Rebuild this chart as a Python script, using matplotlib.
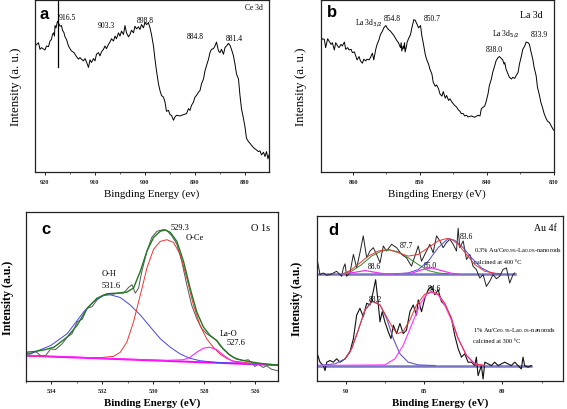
import matplotlib
matplotlib.use("Agg")
import matplotlib.pyplot as plt
from matplotlib.ticker import MultipleLocator

plt.rcParams['font.family'] = ['Liberation Serif', 'DejaVu Serif']

# ---------------- Panel a : Ce 3d ----------------
a_ev = [922.0, 921.3, 921.0, 920.7, 920.0, 919.7, 919.3, 919.0, 918.7, 918.5, 918.3, 918.1, 918.0, 917.8,
        917.5, 917.3, 917.0, 916.7, 916.5, 916.2, 916.0, 915.7, 915.3, 915.0, 914.7, 914.2, 913.7, 913.3,
        913.0, 912.7, 912.3, 912.0, 911.7, 911.3, 911.0, 910.7, 910.3, 910.0, 909.7, 909.3, 909.0, 908.7,
        908.3, 908.0, 907.7, 907.3, 907.0, 906.7, 906.3, 906.0, 905.7, 905.3, 905.0, 904.7, 904.3, 904.0,
        903.7, 903.3, 903.0, 902.7, 902.3, 902.0, 901.7, 901.3, 901.0, 900.7, 900.3, 900.0, 899.7, 899.3,
        899.0, 898.7, 898.3, 898.0, 897.7, 897.3, 897.0, 896.7, 896.3, 896.0, 895.7, 895.3, 895.0, 894.7,
        894.3, 894.0, 893.7, 893.0, 892.3, 891.7, 891.3, 891.0, 890.7, 890.3, 890.0, 889.7, 889.3, 889.0,
        888.7, 888.3, 888.0, 887.7, 887.3, 887.0, 886.7, 886.3, 886.0, 885.7, 885.3, 885.0, 884.7, 884.3,
        884.0, 883.7, 883.3, 883.0, 882.7, 882.3, 882.0, 881.7, 881.3, 881.0, 880.7, 880.3, 880.0, 879.7,
        879.3, 879.0, 878.3, 877.7, 877.3, 877.0, 876.7, 876.3, 876.0, 875.7, 875.4, 875.2]
a_int = [76.4, 78.4, 74.4, 75.4, 74.0, 76.4, 76.0, 79.4, 80.4, 83.4, 84.4, 82.4, 88.8, 87.4,
         91.4, 90.4, 88.4, 88.8, 86.0, 84.4, 82.0, 80.4, 76.4, 74.8, 73.4, 72.4, 70.0, 68.4,
         69.4, 68.4, 67.4, 68.8, 66.8, 63.4, 68.0, 66.4, 68.8, 67.4, 71.4, 72.4, 70.4, 72.8,
         74.4, 76.4, 74.8, 77.4, 78.8, 80.8, 79.4, 82.4, 80.8, 84.4, 82.4, 85.4, 83.4, 88.8,
         84.4, 82.0, 83.4, 86.0, 84.4, 88.4, 86.8, 88.0, 86.4, 89.4, 87.4, 90.8, 89.4, 90.4,
         87.4, 83.4, 76.4, 68.4, 61.4, 53.4, 49.4, 46.4, 45.4, 42.4, 36.8, 37.4, 34.8, 34.4,
         31.4, 33.4, 34.4, 34.0, 34.8, 35.4, 38.4, 37.4, 40.4, 42.4, 45.4, 46.4, 48.4, 49.4,
         53.4, 56.4, 61.4, 64.4, 68.4, 72.4, 74.4, 74.8, 76.4, 78.8, 73.4, 72.4, 74.4, 71.4,
         75.4, 76.4, 78.0, 76.8, 74.4, 70.4, 65.4, 59.4, 56.4, 46.4, 38.4, 32.4, 27.4, 20.4,
         18.4, 17.4, 14.8, 13.4, 12.4, 12.8, 10.4, 12.0, 9.4, 12.4, 8.0, 10.4]
a_marker_ev = 917.3
a_labels = ["916.5", "903.3", "898.8", "884.8", "881.4"]
a_label_ev = [917.3, 907.8, 900.0, 890.0, 882.1]
a_label_int = [94.0, 89.4, 92.0, 82.4, 81.4]

# ---------------- Panel b : La 3d ----------------
b_ev = [864.8, 864.6, 864.3, 864.1, 863.8, 863.6, 863.3, 863.1, 862.8, 862.6, 862.3, 862.1, 861.8, 861.6,
        861.3, 861.1, 860.8, 860.6, 860.3, 860.1, 859.8, 859.6, 859.4, 859.1, 858.9, 858.6, 858.4, 858.1,
        857.9, 857.6, 857.4, 857.1, 856.9, 856.6, 856.4, 856.1, 855.9, 855.6, 855.4, 855.1, 854.9, 854.7,
        854.4, 854.2, 853.9, 853.7, 853.4, 853.2, 852.9, 852.8, 852.7, 852.5, 852.4, 852.3, 852.2, 852.0,
        851.9, 851.7, 851.4, 851.2, 850.9, 850.7, 850.4, 850.2, 849.9, 849.7, 849.5, 849.2, 849.0, 848.7,
        848.5, 848.2, 848.0, 847.7, 847.5, 847.2, 847.0, 846.7, 846.5, 846.2, 846.0, 845.7, 845.5, 845.2,
        845.0, 844.8, 844.5, 844.3, 844.0, 843.8, 843.5, 843.3, 843.0, 842.8, 842.3, 841.8, 841.3, 841.0,
        840.8, 840.5, 840.3, 840.1, 839.8, 839.6, 839.3, 839.1, 838.8, 838.6, 838.3, 838.1, 837.8, 837.6,
        837.4, 837.3, 837.1, 836.8, 836.6, 836.3, 836.1, 835.8, 835.6, 835.3, 835.1, 834.8, 834.6, 834.3,
        834.1, 833.8, 833.6, 833.4, 833.1, 832.9, 832.6, 832.4, 832.1, 831.9, 831.6, 831.4, 831.1, 830.9,
        830.6, 830.4, 830.0]
b_int = [79.4, 80.8, 80.4, 75.4, 80.8, 79.4, 77.4, 78.4, 74.0, 78.4, 76.4, 75.4, 77.4, 76.4,
         78.8, 74.4, 75.4, 74.0, 74.4, 72.4, 72.8, 70.4, 68.0, 70.0, 67.4, 66.0, 68.4, 67.4,
         68.4, 68.0, 69.4, 72.0, 68.0, 74.4, 77.4, 80.4, 83.4, 85.4, 87.4, 88.8, 87.4, 86.4,
         85.4, 84.4, 82.8, 81.4, 79.4, 78.4, 75.4, 78.4, 73.4, 76.4, 74.8, 78.4, 72.8, 76.4,
         78.8, 80.8, 83.4, 87.4, 92.4, 92.0, 89.4, 87.4, 88.8, 82.4, 78.4, 71.4, 68.4, 65.4,
         62.4, 59.4, 54.4, 52.0, 52.8, 50.4, 47.4, 46.0, 48.8, 44.8, 46.4, 43.4, 44.4, 42.4,
         41.4, 40.4, 39.4, 38.0, 36.8, 35.4, 35.4, 34.0, 34.4, 33.4, 34.0, 33.2, 34.4, 34.0,
         38.4, 39.4, 40.0, 42.4, 47.4, 52.4, 56.4, 60.4, 64.4, 67.4, 69.4, 70.0, 68.8, 68.0,
         65.4, 66.4, 62.4, 59.4, 57.4, 56.4, 57.4, 56.8, 58.4, 60.4, 65.4, 70.4, 74.4, 76.4,
         78.8, 78.4, 77.4, 73.4, 68.4, 63.4, 58.4, 51.4, 46.4, 42.4, 38.4, 35.4, 32.4, 30.8,
         30.0, 28.4, 25.4]
b_labels = ["854.8", "850.7", "838.0", "833.9"]
b_label_ev = [854.1, 848.2, 838.9, 832.1]
b_label_int = [93.4, 93.4, 74.8, 83.4]

# ---------------- Panel c : O 1s ----------------
c_ev = [535.0, 534.8, 534.61, 534.41, 534.22, 534.02, 533.83, 533.57, 533.37, 533.18, 532.98, 532.78,
        532.59, 532.39, 532.2, 532.0, 531.81, 531.55, 531.35, 531.16, 530.96, 530.83, 530.7, 530.57,
        530.44, 530.24, 530.05, 529.85, 529.59, 529.46, 529.27, 529.07, 528.88, 528.68, 528.49, 528.29,
        528.09, 527.9, 527.7, 527.51, 527.38, 527.25, 527.05, 526.86, 526.66, 526.47, 526.27, 526.14,
        526.01, 525.88, 525.68, 525.55, 525.36, 525.1]
c_int = [16.0, 16.0, 17.4, 15.0, 15.0, 19.0, 18.6, 22.0, 26.0, 28.0, 35.0, 36.6,
         43.0, 44.0, 48.0, 50.6, 51.4, 51.4, 52.0, 52.0, 55.4, 57.0, 52.0, 55.0,
         65.0, 77.0, 85.0, 88.6, 89.6, 89.0, 86.0, 81.0, 71.0, 57.0, 45.0, 37.0,
         31.0, 28.0, 26.0, 24.0, 21.0, 19.0, 16.0, 14.0, 13.0, 12.0, 12.6, 11.0,
         8.6, 10.0, 8.0, 9.0, 7.0, 6.0]
c_fit_ev = [535.0, 534.67, 534.28, 533.89, 533.37, 532.98, 532.59, 532.2, 531.81, 531.42, 531.03, 530.77,
            530.5, 530.24, 529.98, 529.72, 529.53, 529.33, 529.07, 528.81, 528.55, 528.29, 528.03, 527.77,
            527.51, 527.25, 526.99, 526.73, 526.2, 525.68, 525.1]
c_fit_int = [17.0, 17.4, 18.4, 20.0, 26.0, 33.0, 43.0, 49.0, 51.6, 52.0, 52.6, 55.0,
             65.0, 77.0, 85.0, 88.6, 89.4, 88.0, 82.6, 71.0, 55.0, 41.0, 32.0, 27.0,
             24.0, 19.0, 15.4, 13.0, 11.4, 10.2, 9.4]
c_oce_ev = [535.0, 533.37, 532.07, 531.55, 531.29, 531.03, 530.77, 530.5, 530.24, 529.98, 529.72, 529.46,
            529.2, 528.94, 528.68, 528.42, 528.16, 527.9, 527.64, 527.38, 527.12, 526.86, 526.2, 525.1]
c_oce_int = [15.0, 14.0, 13.8, 14.6, 17.0, 23.0, 35.0, 51.0, 67.0, 78.0, 82.6, 83.6,
             82.0, 75.0, 61.0, 45.0, 33.0, 25.0, 20.0, 16.0, 13.4, 11.8, 10.6, 9.4]
c_oh_ev = [535.0, 534.67, 534.02, 533.37, 532.72, 532.33, 531.94, 531.68, 531.29, 530.9, 530.5, 530.11,
           529.72, 529.33, 528.94, 528.55, 528.16, 527.51, 526.86, 526.2, 525.1]
c_oh_int = [15.6, 17.0, 21.0, 28.0, 41.0, 47.0, 50.6, 51.0, 49.4, 45.0, 39.0, 32.0,
            25.0, 20.0, 16.0, 13.4, 12.0, 11.0, 10.6, 10.0, 9.4]
c_lao_ev = [535.0, 533.37, 532.07, 530.77, 529.46, 528.81, 528.55, 528.29, 528.03, 527.79, 527.51, 527.25,
            526.99, 526.73, 526.2, 525.1]
c_lao_int = [15.0, 14.4, 13.4, 12.8, 12.2, 12.6, 14.0, 17.0, 19.4, 20.0, 18.6, 15.4,
             12.6, 11.0, 10.2, 9.4]
c_base_ev = [535.0, 525.1]
c_base_int = [15.0, 9.4]

# ---------------- Panel d : Au 4f ----------------
d_up_ev = [91.85, 91.74, 91.64, 91.43, 91.21, 90.89, 90.58, 90.26, 90.15, 90.04, 89.94, 89.73, 89.51, 89.30,
           89.09, 88.88, 88.66, 88.45, 88.24, 88.03, 87.81, 87.60, 87.39, 87.07, 86.75, 86.43, 86.12, 85.80,
           85.58, 85.37, 85.16, 84.95, 84.63, 84.42, 84.20, 83.99, 83.78, 83.57, 83.35, 83.14, 82.93, 82.82,
           82.72, 82.50, 82.29, 82.08, 81.87, 81.66, 81.44, 81.23, 81.02, 80.81, 80.59, 80.38, 80.17, 79.96,
           79.74, 79.53, 79.32, 79.21]
d_up_int = [73.0, 68.0, 63.0, 64.0, 62.6, 63.4, 65.0, 62.0, 67.0, 69.4, 62.0, 64.0, 75.0, 67.0,
            76.0, 86.0, 73.0, 77.0, 79.0, 75.0, 70.0, 80.0, 77.0, 81.0, 79.0, 75.0, 73.0, 68.0,
            74.0, 80.0, 71.0, 75.0, 81.0, 76.0, 86.0, 83.0, 79.0, 82.0, 84.0, 81.0, 77.0, 90.6,
            79.0, 83.0, 72.0, 75.0, 68.0, 66.0, 61.0, 63.0, 56.0, 59.0, 63.0, 60.6, 62.0, 66.0,
            67.0, 58.0, 63.0, 64.0]
d_up_base_ev = [91.85, 79.21]
d_up_base_int = [63.4, 63.4]
d_up_fit_ev = [90.15, 89.62, 89.09, 88.56, 87.92, 87.28, 86.65, 86.01, 85.37, 84.73, 84.10, 83.57, 83.25,
               82.82, 82.29, 81.76, 81.12, 80.27]
d_up_fit_int = [63.4, 66.0, 70.0, 74.0, 77.0, 78.0, 76.0, 74.0, 75.0, 79.0, 83.0, 84.4, 84.0,
                81.0, 75.0, 69.0, 65.0, 63.4]
d_up_877_ev = [90.26, 89.62, 88.98, 88.35, 87.71, 87.18, 86.65, 86.01, 85.37, 84.73, 84.10, 83.46]
d_up_877_int = [63.4, 65.0, 69.0, 74.0, 77.0, 77.6, 76.6, 73.0, 69.0, 65.4, 64.0, 63.4]
d_up_836_ev = [86.86, 86.01, 85.37, 84.73, 84.10, 83.46, 83.04, 82.50, 81.97, 81.34, 80.70, 80.06]
d_up_836_int = [63.4, 64.0, 66.0, 71.0, 79.0, 84.4, 83.4, 79.0, 73.0, 67.0, 64.0, 63.4]
d_up_small_ev = [90.26, 89.41, 88.77, 88.13, 87.50, 85.80, 85.16, 84.52, 83.89, 83.25, 82.82]
d_up_small_int = [63.4, 64.4, 65.4, 64.4, 63.4, 63.8, 65.8, 67.0, 65.4, 63.8, 63.4]

d_lo_ev = [91.85, 91.64, 91.43, 91.32, 91.21, 91.00, 90.79, 90.58, 90.36, 90.04, 89.73, 89.51, 89.30, 89.09,
           88.88, 88.66, 88.45, 88.24, 88.09, 87.96, 87.81, 87.67, 87.50, 87.28, 87.11, 86.96, 86.75, 86.54,
           86.33, 86.12, 85.90, 85.69, 85.48, 85.37, 85.16, 84.95, 84.73, 84.52, 84.31, 84.10, 83.89, 83.67,
           83.46, 83.25, 83.04, 82.82, 82.61, 82.40, 82.19, 81.97, 81.76, 81.66, 81.55, 81.34, 81.23, 81.12,
           80.91, 80.70, 80.49, 80.27, 80.06, 79.85, 79.64, 79.43, 79.21, 79.00, 78.79, 78.68, 78.58, 78.36,
           78.15]
d_lo_int = [17.0, 11.0, 9.0, 6.0, 11.0, 12.0, 11.0, 13.0, 11.0, 13.0, 17.0, 25.0, 39.0, 43.0,
            38.0, 46.0, 45.0, 53.0, 60.0, 49.0, 35.0, 41.0, 35.0, 29.0, 25.0, 33.0, 28.0, 34.0,
            28.0, 30.0, 41.0, 45.0, 39.0, 48.0, 41.0, 49.0, 54.0, 56.0, 51.0, 54.0, 47.0, 45.0,
            41.0, 37.0, 27.0, 19.0, 14.0, 16.0, 11.0, 11.0, 9.0, 14.0, 3.0, 9.0, 1.0, 11.0,
            10.0, 9.0, 11.0, 9.0, 10.0, 11.0, 10.0, 9.0, 11.0, 9.0, 7.0, 14.0, 9.0, 8.0,
            9.0]
d_lo_base_ev = [91.85, 78.15]
d_lo_base_int = [9.0, 9.0]
d_lo_882_ev = [91.85, 90.68, 90.04, 89.62, 89.20, 88.77, 88.30, 87.81, 87.39, 86.96, 86.54, 86.01, 85.37,
               84.31]
d_lo_882_int = [9.0, 10.0, 13.0, 19.0, 30.0, 42.0, 47.0, 45.0, 37.0, 25.0, 16.0, 11.0, 9.4, 9.0]
d_lo_846_ev = [91.85, 87.50, 86.86, 86.33, 85.80, 85.27, 84.84, 84.52, 84.10, 83.67, 83.25, 82.82, 82.29,
               81.76, 81.12]
d_lo_846_int = [9.0, 9.4, 13.0, 21.0, 33.0, 45.0, 51.4, 52.6, 51.0, 45.0, 36.0, 25.0, 15.0, 10.0, 9.0]
d_lo_fit_ev = [90.04, 89.62, 89.20, 88.77, 88.30, 87.81, 87.39, 86.96, 86.65, 86.33, 85.90, 85.48, 84.95,
               84.52, 84.10, 83.67, 83.25, 82.82, 82.29, 81.76, 81.12]
d_lo_fit_int = [13.0, 19.0, 30.0, 42.0, 47.4, 45.0, 38.0, 30.6, 28.0, 29.4, 36.0, 45.0, 51.4,
                53.0, 51.4, 46.0, 37.0, 25.0, 15.0, 10.0, 9.0]

# ---------------- Figure ----------------
fig = plt.figure(figsize=(5.67, 4.10), dpi=100)
axa = fig.add_axes([0.0617, 0.578, 0.4127, 0.420])
axb = fig.add_axes([0.5661, 0.578, 0.4101, 0.420])
axc = fig.add_axes([0.0453, 0.0683, 0.4450, 0.4122])
axd = fig.add_axes([0.5586, 0.0690, 0.4343, 0.4025])

SANS = ['Liberation Sans', 'DejaVu Sans']

def style(ax, xlim, ylim, major, minor, xlabel, ylabel, bold, ysize, ypad):
    ax.set_xlim(*xlim)
    ax.set_ylim(*ylim)
    ax.xaxis.set_major_locator(MultipleLocator(major))
    ax.xaxis.set_minor_locator(MultipleLocator(minor))
    ax.set_yticks([])
    ax.tick_params(axis='x', which='major', length=2.5, width=0.7, direction='out', pad=2.5,
                   labelsize=4.5, colors='#222222')
    ax.tick_params(axis='x', which='minor', length=1.5, width=0.6, direction='out', colors='#555555')
    for lab in ax.get_xticklabels():
        lab.set_fontweight('bold')
    for sp in ax.spines.values():
        sp.set_linewidth(0.9)
        sp.set_color('#222222')
    w = 'bold' if bold else 'normal'
    ax.set_xlabel(xlabel, fontsize=7.8, fontweight=w, labelpad=3.5)
    ax.set_ylabel(ylabel, fontsize=ysize, fontweight=w, labelpad=ypad)

# Panel a
axa.plot(a_ev, a_int, color='black', lw=0.7)
axa.plot([a_marker_ev, a_marker_ev], [63.4, 104.4], color='black', lw=0.9)
for t, x, y in zip(a_labels, a_label_ev, a_label_int):
    ha = 'left' if t == "916.5" else 'center'
    axa.text(x, y, t, fontsize=5.5, ha=ha, va='center')
axa.text(878.3, 100.0, "Ce 3d", fontsize=5.5, ha='center', va='center')
axa.text(920.1, 96.4, "a", fontsize=12, fontweight='bold', family=SANS, ha='center', va='center')
style(axa, (922.0, 875.2), (0, 104.4), 10, 5, "Bingding Energy (ev)", "Intensity (a. u.)", False, 9.3, 9.5)

# Panel b
axb.plot(b_ev, b_int, color='black', lw=0.7)
for t, x, y in zip(b_labels, b_label_ev, b_label_int):
    axb.text(x, y, t, fontsize=5.5, ha='center', va='center')
axb.text(857.6, 90.8, r"La 3d$_{3/2}$", fontsize=5.5, ha='center', va='center')
axb.text(837.2, 84.0, r"La 3d$_{5/2}$", fontsize=5.5, ha='center', va='center')
axb.text(833.4, 95.4, "La 3d", fontsize=7, ha='center', va='center')
axb.text(863.1, 97.4, "b", fontsize=12, fontweight='bold', family=SANS, ha='center', va='center')
style(axb, (864.8, 830.0), (0, 104.4), 10, 5, "Bingding Energy (eV)", "Intensity (a. u.)", False, 9.3, 10)

# Panel c
axc.plot(c_base_ev, c_base_int, color='#ff00ff', lw=1.4)
axc.plot(c_ev, c_int, color='#555555', lw=0.7)
axc.plot(c_oh_ev, c_oh_int, color='#4444ee', lw=0.7)
axc.plot(c_oce_ev, c_oce_int, color='#ee3333', lw=0.7)
axc.plot(c_lao_ev, c_lao_int, color='#ff22ff', lw=0.8)
axc.plot(c_fit_ev, c_fit_int, color='#207a20', lw=1.0)
axc.text(534.2, 90.0, "c", fontsize=12, fontweight='bold', family=SANS, ha='center', va='center')
axc.text(528.94, 91.4, "529.3", fontsize=6, ha='center', va='center')
axc.text(528.38, 85.0, "O-Ce", fontsize=6, ha='center', va='center')
axc.text(525.8, 91.0, "O 1s", fontsize=7.5, ha='center', va='center')
axc.text(531.74, 64.0, "O-H", fontsize=6, ha='center', va='center')
axc.text(531.65, 57.0, "531.6", fontsize=6, ha='center', va='center')
axc.text(527.05, 28.4, "La-O", fontsize=6, ha='center', va='center')
axc.text(526.75, 23.0, "527.6", fontsize=6, ha='center', va='center')
style(axc, (535.0, 525.1), (0, 100), 2, 1, "Binding Energy (eV)", "Intensity (a.u.)", True, 8.6, 8.5)

# Panel d
axd.plot(d_up_base_ev, d_up_base_int, color='#7777c4', lw=1.8)
axd.plot(d_lo_base_ev, d_lo_base_int, color='#7777c4', lw=1.8)
axd.plot(d_up_ev, d_up_int, color='#222222', lw=0.7)
axd.plot(d_lo_ev, d_lo_int, color='#111111', lw=0.8)
axd.plot(d_up_877_ev, d_up_877_int, color='#2e8b2e', lw=0.7)
axd.plot(d_up_836_ev, d_up_836_int, color='#4a4ad8', lw=0.7)
axd.plot(d_up_small_ev, d_up_small_int, color='#ee33ee', lw=0.9)
axd.plot(d_up_fit_ev, d_up_fit_int, color='#ee3333', lw=0.7)
axd.plot(d_lo_882_ev, d_lo_882_int, color='#6655bb', lw=0.8)
axd.plot(d_lo_846_ev, d_lo_846_int, color='#ff44ff', lw=0.9)
axd.plot(d_lo_fit_ev, d_lo_fit_int, color='#ee3333', lw=0.7)
axd.text(90.79, 90.0, "d", fontsize=12, fontweight='bold', family=SANS, ha='center', va='center')
axd.text(77.26, 91.0, "Au 4f", fontsize=7, ha='center', va='center')
axd.text(86.12, 80.4, "87.7", fontsize=5.5, ha='center', va='center')
axd.text(82.29, 86.0, "83.6", fontsize=5.5, ha='center', va='center')
axd.text(88.18, 68.0, "88.6", fontsize=5.5, ha='center', va='center')
axd.text(84.63, 68.6, "85.0", fontsize=5.5, ha='center', va='center')
axd.text(88.09, 48.6, "88.2", fontsize=5.5, ha='center', va='center')
axd.text(84.31, 55.0, "84.6", fontsize=5.5, ha='center', va='center')
axd.text(81.80, 78.0, r"0.3% Au/Ce$_{0.95}$-La$_{0.05}$-nanorods", fontsize=4.6, ha='left', va='center')
axd.text(81.80, 71.0, "calcined at 400 °C", fontsize=4.6, ha='left', va='center')
axd.text(81.87, 30.6, r"1% Au/Ce$_{0.95}$-La$_{0.05}$-nanorods", fontsize=4.6, ha='left', va='center')
axd.text(81.87, 24.0, "calcined at 300 °C", fontsize=4.6, ha='left', va='center')
style(axd, (91.85, 76.13), (0, 98), 5, 2.5, "Binding Energy (eV)", "Intensity (a.u.)", True, 8.6, 10)

fig.savefig("out.png", dpi=100)
